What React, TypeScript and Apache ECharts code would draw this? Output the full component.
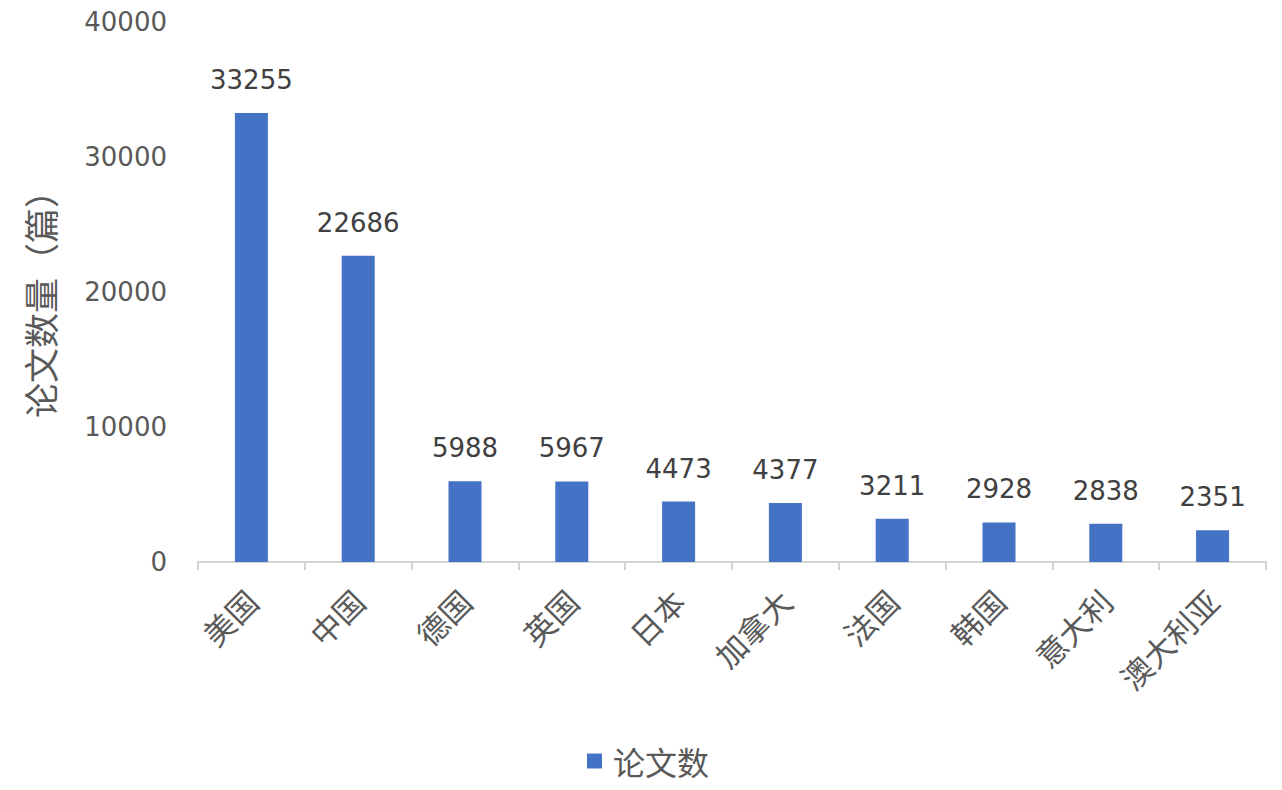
import React, { useEffect, useRef } from "react";
import * as echarts from "echarts";

const categories = ["美国", "中国", "德国", "英国", "日本", "加拿大", "法国", "韩国", "意大利", "澳大利亚"];
const paperCounts = [33255, 22686, 5988, 5967, 4473, 4377, 3211, 2928, 2838, 2351];
const seriesName = "论文数";
const yAxisName = "论文数量（篇）";

export default function App() {
  const ref = useRef<HTMLDivElement>(null);
  useEffect(() => {
    if (!ref.current) return;
    const chart = echarts.init(ref.current, undefined, { renderer: "svg" });
    const font = "DejaVu Sans, Noto Sans CJK SC, sans-serif";
    chart.setOption({
      animation: false,
      backgroundColor: "#ffffff",
      textStyle: { fontFamily: font },
      grid: { left: 198, right: 16, top: 22, bottom: 228, containLabel: false },
      legend: {
        data: [seriesName],
        left: 587,
        top: 745,
        padding: 0,
        icon: "rect",
        itemWidth: 15,
        itemHeight: 15,
        itemGap: 10,
        textStyle: { fontSize: 32, color: "#595959", fontFamily: "Noto Sans CJK SC", padding: [0, 0, 0, 6] },
      },
      xAxis: {
        type: "category",
        data: categories,
        axisLine: { show: true, lineStyle: { color: "#d4d4d4", width: 2 } },
        axisTick: { show: true, length: 8, lineStyle: { color: "#d4d4d4", width: 2 } },
        axisLabel: {
          rotate: 45,
          interval: 0,
          margin: 33,
          fontSize: 31,
          color: "#595959",
          fontFamily: "Noto Sans CJK SC",
        },
      },
      yAxis: {
        type: "value",
        min: 0,
        max: 40000,
        interval: 10000,
        name: yAxisName,
        nameLocation: "middle",
        nameRotate: 90,
        nameGap: 141,
        nameTextStyle: { fontSize: 35, color: "#595959", fontFamily: "Noto Sans CJK SC", padding: [0, 7, 0, 0] },
        axisLine: { show: false },
        axisTick: { show: false },
        splitLine: { show: false },
        axisLabel: {
          fontSize: 26,
          color: "#595959",
          margin: 31,
          fontFamily: "DejaVu Sans",
          formatter: (v: number) => String(v),
        },
      },
      series: [
        {
          name: seriesName,
          type: "bar",
          data: paperCounts,
          barWidth: 33,
          itemStyle: { color: "#4472C4" },
          label: {
            show: true,
            position: "top",
            distance: 20,
            fontSize: 26,
            color: "#404040",
            fontFamily: "DejaVu Sans",
          },
        },
      ],
    });
    return () => chart.dispose();
  }, []);
  return (
    <div
      ref={ref}
      style={{ position: "fixed", left: 0, top: 0, width: 1282, height: 790 }}
    />
  );
}
